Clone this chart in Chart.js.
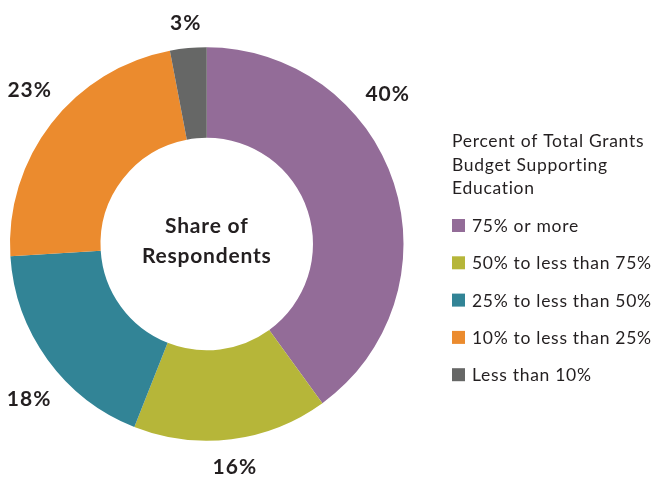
<!DOCTYPE html>
<html>
<head>
<meta charset="utf-8">
<script src="https://cdn.jsdelivr.net/npm/chart.js@4"></script>
<style>
html,body{margin:0;padding:0;background:#fff;}
#wrap{width:653px;height:477px;position:relative;}
</style>
</head>
<body>
<div id="wrap"><canvas id="c" width="653" height="477"></canvas></div>
<script>
const categories = ["75% or more", "50% to less than 75%", "25% to less than 50%", "10% to less than 25%", "Less than 10%"];
const shares = [40, 16, 18, 23, 3];
const valueLabels = ["40%", "16%", "18%", "23%", "3%"];
const colors = ["#936C98", "#B6B639", "#328496", "#EB8B2E", "#666766"];
const legendTitle = ["Percent of Total Grants", "Budget Supporting", "Education"];
const centerText = ["Share of", "Respondents"];

const FONT = "Lato, 'Open Sans', sans-serif";
const TEXT = "#231F20";

const outerLabels = {
  id: 'outerLabels',
  afterDatasetsDraw(chart, args, opts) {
    const ctx = chart.ctx;
    const meta = chart.getDatasetMeta(0);
    ctx.save();
    ctx.font = "bold 21px " + FONT;
    ctx.letterSpacing = "1px";
    ctx.fillStyle = TEXT;
    ctx.textAlign = "center";
    ctx.textBaseline = "middle";
    meta.data.forEach((arc, i) => {
      const p = arc.getProps(['x','y','startAngle','endAngle','outerRadius'], true);
      let a = (p.startAngle + p.endAngle) / 2 + (opts.shift[i] || 0) * Math.PI / 180;
      const txt = valueLabels[i];
      const w = ctx.measureText(txt).width;
      const h = 16;
      const ext = (w/2) * Math.abs(Math.cos(a)) + (h/2) * Math.abs(Math.sin(a));
      const r = p.outerRadius + opts.gap + ext;
      ctx.fillText(txt, p.x + r * Math.cos(a), p.y + r * Math.sin(a) + 1);
    });
    // center text
    const arc0 = meta.data[0];
    ctx.font = "bold 21px " + FONT;
    ctx.letterSpacing = "0.8px";
    ctx.fillText(centerText[0], arc0.x, arc0.y - 18);
    ctx.fillText(centerText[1], arc0.x, arc0.y + 12);
    ctx.restore();
  }
};

const sideLegend = {
  id: 'sideLegend',
  afterDraw(chart, args, opts) {
    const ctx = chart.ctx;
    ctx.save();
    ctx.fillStyle = TEXT;
    ctx.textAlign = "left";
    ctx.textBaseline = "alphabetic";
    ctx.font = "17.5px " + FONT;
    ctx.letterSpacing = "0.7px";
    legendTitle.forEach((t, i) => ctx.fillText(t, opts.x, opts.titleY + i * 23.5));
    const ds = chart.data.datasets[0];
    chart.data.labels.forEach((lab, i) => {
      const by = opts.itemY + i * 37.3;
      ctx.fillStyle = ds.backgroundColor[i];
      ctx.fillRect(opts.x, by - 13, 13, 13);
      ctx.fillStyle = TEXT;
      ctx.fillText(lab, opts.x + 20, by);
    });
    ctx.restore();
  }
};

new Chart(document.getElementById('c'), {
  type: 'doughnut',
  data: {
    labels: categories,
    datasets: [{
      data: shares,
      backgroundColor: colors,
      borderWidth: 0,
      hoverOffset: 0
    }]
  },
  options: {
    responsive: false,
    animation: false,
    cutout: '54%',
    layout: { padding: { left: 10, right: 249.5, top: 47, bottom: 36 } },
    plugins: {
      legend: { display: false },
      tooltip: { enabled: false },
      outerLabels: { gap: 16.5, shift: [-21.8, 0, -5, 3.4, 0] },
      sideLegend: { x: 452, titleY: 147, itemY: 232 }
    }
  },
  plugins: [outerLabels, sideLegend]
});
</script>
</body>
</html>
